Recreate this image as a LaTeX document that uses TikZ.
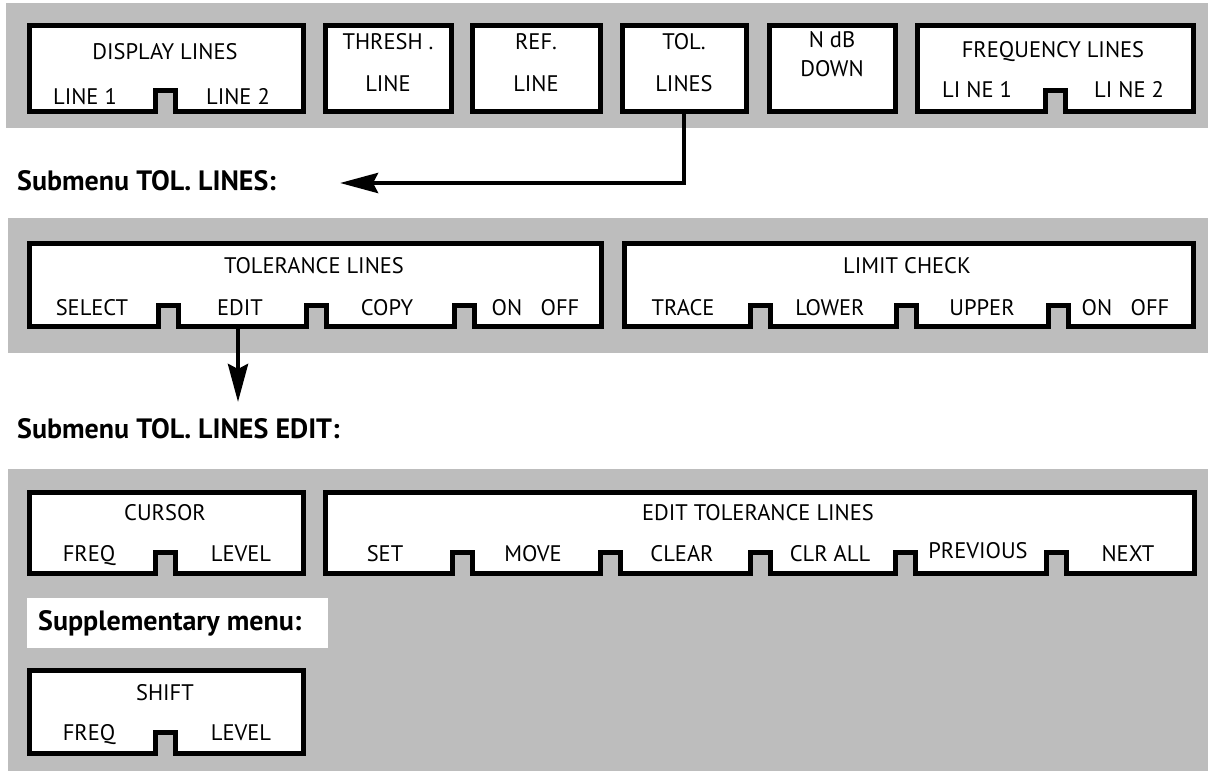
\documentclass[tikz,border=0pt]{standalone}
\usepackage{fontspec}
\setmainfont{PT Sans}
\usetikzlibrary{arrows.meta}
\newcommand\lblfont{\fontsize{22.5}{24}\selectfont}
\newcommand\hdfont{\fontsize{28}{30}\selectfont\bfseries}
\tikzset{
  panel/.style={fill=black!26, draw=none},
  keybox/.style={draw=black, line width=5pt, fill=white, line join=miter},
  lbl/.style={font=\lblfont, inner sep=0pt, anchor=base},
  head/.style={font=\hdfont, inner sep=0pt, anchor=base west},
  conn/.style={line width=4.5pt, -{Stealth[length=38pt,width=20pt,inset=5pt]}},
}
% notched soft-key box: x1,y1,x2,y2, notch centres (descending)
\newcommand\keybox[5]{%
  \draw[keybox] (#1,#2) -- (#3,#2) -- (#3,#4)
    \foreach \n in {#5}{ -- (\n+10,#4) -- (\n+10,#4-21) -- (\n-10,#4-21) -- (\n-10,#4) }
    -- (#1,#4) -- cycle;}
\newcommand\plainbox[4]{\draw[keybox] (#1,#2) rectangle (#3,#4);}
% label: name, x, cap-centre y, text
\newcommand\lbl[4]{\node[lbl] (#1) at (#2,#3+8) {#4};}
\begin{document}
\begin{tikzpicture}[x=1pt,y=-1pt]
\useasboundingbox (0,0) rectangle (1211,771);
% ---------- panel 1 ----------
\fill[panel] (6,3) rectangle (1208,128);
\keybox{29}{25}{303}{111}{165}
\plainbox{325}{25}{451}{111}
\plainbox{472}{25}{600}{111}
\plainbox{622}{25}{746}{111}
\plainbox{769}{25}{895}{111}
\keybox{917}{25}{1193}{111}{1055}
\lbl{dl}{165}{51}{DISPLAY LINES}
\lbl{dla}{85}{96}{LINE 1}
\lbl{dlb}{238}{96}{LINE 2}
\lbl{th}{388}{41}{THRESH .}
\lbl{thb}{388}{83}{LINE}
\lbl{rf}{536}{41}{REF.}
\lbl{rfb}{536}{83}{LINE}
\lbl{tl}{684}{41}{TOL.}
\lbl{tlb}{684}{83}{LINES}
\lbl{nd}{832}{39}{N dB}
\lbl{ndb}{832}{68}{DOWN}
\lbl{fl}{1053}{49}{FREQUENCY LINES}
\lbl{fla}{977}{89}{LI NE 1}
\lbl{flb}{1129}{89}{LI NE 2}
% ---------- heading 1 + arrow ----------
\node[head] (h1) at (17,190) {Submenu TOL. LINES:};
\coordinate (tolbot) at (684,111);
\coordinate (aend) at (340,183);
\draw[conn] (tolbot) |- (aend);
% ---------- panel 2 ----------
\fill[panel] (8,218) rectangle (1208,353);
\keybox{29}{243}{601}{326}{464,316,168}
\keybox{624}{243}{1193}{326}{1058,906,760}
\lbl{tol}{314}{265}{TOLERANCE LINES}
\lbl{sel}{92}{307}{SELECT}
\lbl{edt}{240}{307}{EDIT}
\lbl{cpy}{387}{307}{COPY}
\lbl{ona}{507}{307}{ON}
\lbl{offa}{560}{307}{OFF}
\lbl{lch}{907}{265}{LIMIT CHECK}
\lbl{trc}{683}{307}{TRACE}
\lbl{low}{830}{307}{LOWER}
\lbl{upp}{982}{307}{UPPER}
\lbl{onb}{1097}{307}{ON}
\lbl{offb}{1150}{307}{OFF}
% ---------- heading 2 + arrow ----------
\coordinate (editbot) at (238,326);
\coordinate (bend) at (238,402);
\draw[conn] (editbot) -- (bend);
\node[head] (h2) at (17,438) {Submenu TOL. LINES EDIT:};
% ---------- panel 3 ----------
\fill[panel] (8,469) rectangle (1208,771);
\keybox{29}{492}{303}{573}{165}
\keybox{325}{492}{1194}{573}{1056,905,760,610,462}
\lbl{cur}{165}{512}{CURSOR}
\lbl{cf}{89}{553}{FREQ}
\lbl{cl}{241}{553}{LEVEL}
\lbl{etl}{758}{512}{EDIT TOLERANCE LINES}
\lbl{set}{385}{553}{SET}
\lbl{mov}{533}{553}{MOVE}
\lbl{clr}{682}{553}{CLEAR}
\lbl{cla}{830}{553}{CLR ALL}
\lbl{prv}{978}{550}{PREVIOUS}
\lbl{nxt}{1128}{553}{NEXT}
\fill[white] (27,598) rectangle (328,648);
\node[head] (h3) at (38,630) {Supplementary menu:};
\keybox{29}{670}{303}{753}{165}
\lbl{shf}{165}{692}{SHIFT}
\lbl{sf}{89}{732}{FREQ}
\lbl{sl}{241}{732}{LEVEL}
\end{tikzpicture}
\end{document}
